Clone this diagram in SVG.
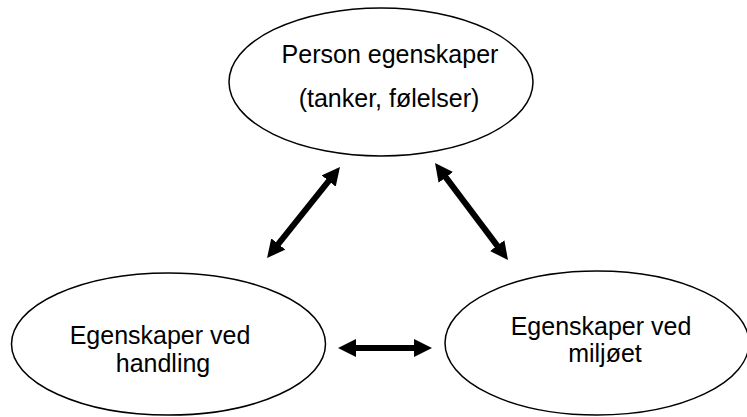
<svg xmlns="http://www.w3.org/2000/svg" width="747" height="417" viewBox="0 0 747 417">
<style>
.node ellipse{fill:#fff;stroke:#000;stroke-width:1.5}
.node text{font-family:"Liberation Sans",Arial,sans-serif;font-size:25px;fill:#000;text-anchor:middle}
.conn line{stroke:#000;stroke-width:6;marker-start:url(#ah);marker-end:url(#ah)}
</style>
<defs>
<marker id="ah" viewBox="0 0 10 10" refX="4" refY="5" markerWidth="3" markerHeight="3" orient="auto-start-reverse" markerUnits="strokeWidth">
<path d="M0,0 L10,5 L0,10 z" fill="#000"/>
</marker>
</defs>
<rect width="747" height="417" fill="#fff"/>
<g id="person" class="node">
<ellipse cx="381" cy="82" rx="152" ry="74"/>
<text x="390" y="63">Person egenskaper</text>
<text x="389" y="107">(tanker, følelser)</text>
</g>
<g id="handling" class="node">
<ellipse cx="168.5" cy="344" rx="157" ry="71"/>
<text x="160" y="344">Egenskaper ved</text>
<text x="163" y="372">handling</text>
</g>
<g id="miljo" class="node">
<ellipse cx="597" cy="343" rx="152" ry="72"/>
<text x="601" y="335">Egenskaper ved</text>
<text x="605" y="362">miljøet</text>
</g>
<g id="connectors" class="conn">
<line x1="273.8" y1="249.6" x2="333.2" y2="175.4"/>
<line x1="441.5" y1="171.6" x2="501.5" y2="251.4"/>
<line x1="348.8" y1="348" x2="421.2" y2="348"/>
</g>
</svg>
